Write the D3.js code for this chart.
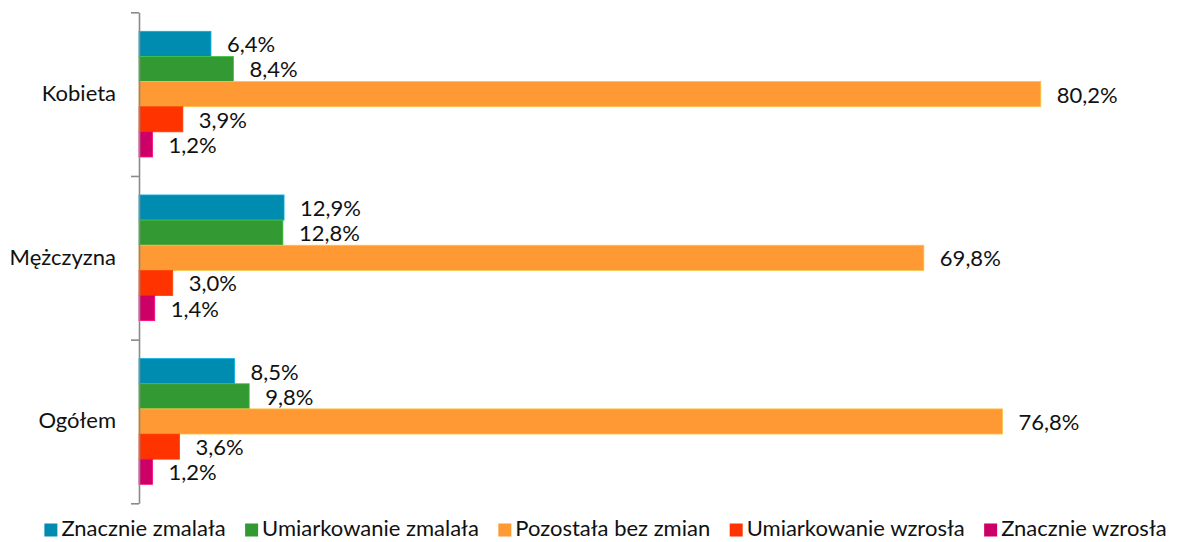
<!DOCTYPE html>
<html lang="pl">
<head>
<meta charset="utf-8">
<script src="https://cdn.jsdelivr.net/npm/d3@7"></script>
<style>
  html, body { margin: 0; padding: 0; background: #fff; }
  svg { display: block; }
  text { font-family: Lato, "Open Sans", sans-serif; fill: #111; }
</style>
</head>
<body>
<svg id="chart" width="1186" height="542"></svg>
<script>
// Grupy (oś pionowa) i serie odpowiedzi
const categories = ["Kobieta", "Mężczyzna", "Ogółem"];
const seriesNames = ["Znacznie zmalała", "Umiarkowanie zmalała", "Pozostała bez zmian", "Umiarkowanie wzrosła", "Znacznie wzrosła"];
const seriesColors = ["#008BB0", "#339933", "#FF9933", "#FF3300", "#CC0066"];

// Odsetki (%) dla kolejnych grup: Kobieta, Mężczyzna, Ogółem
const znacznieZmalala     = [6.4, 12.9, 8.5];
const umiarkowanieZmalala = [8.4, 12.8, 9.8];
const pozostalaBezZmian   = [80.2, 69.8, 76.8];
const umiarkowanieWzrosla = [3.9, 3.0, 3.6];
const znacznieWzrosla     = [1.2, 1.4, 1.2];

const seriesValues = [znacznieZmalala, umiarkowanieZmalala, pozostalaBezZmian, umiarkowanieWzrosla, znacznieWzrosla];

const rows = [];
categories.forEach((cat, ci) => {
  seriesNames.forEach((s, si) => {
    rows.push({ cat, series: s, si, value: seriesValues[si][ci] });
  });
});

const svg = d3.select("#chart");
const plot = { left: 139, top: 12.3, bottom: 503.3, right: 1151 };
const fontSize = "22px";

const x = d3.scaleLinear().domain([0, 90]).range([plot.left, plot.right]);
const y = d3.scaleBand().domain(categories).range([plot.top, plot.bottom]).paddingInner(0).paddingOuter(0);
const yInner = d3.scaleBand().domain(seriesNames).range([0, y.bandwidth()]).paddingInner(0).paddingOuter(0.756);
const color = d3.scaleOrdinal().domain(seriesNames).range(seriesColors);

const fmt = v => v.toFixed(1).replace(".", ",") + "%";

// Słupki
const groups = svg.append("g").selectAll("g")
  .data(categories)
  .join("g")
  .attr("transform", d => `translate(0,${y(d)})`);

groups.selectAll("rect")
  .data(c => rows.filter(r => r.cat === c))
  .join("rect")
  .attr("x", x(0))
  .attr("y", d => yInner(d.series))
  .attr("width", d => x(d.value) - x(0))
  .attr("height", yInner.bandwidth())
  .attr("fill", d => color(d.series))
  .attr("stroke", d => d3.color(color(d.series)).brighter(0.7))
  .attr("stroke-width", 0.8);

// Etykiety wartości
groups.selectAll("text.val")
  .data(c => rows.filter(r => r.cat === c))
  .join("text")
  .attr("class", "val")
  .attr("x", d => x(d.value) + 16)
  .attr("y", d => yInner(d.series) + yInner.bandwidth() / 2 + 8.5)
  .style("font-size", fontSize)
  .text(d => fmt(d.value));

// Oś kategorii: linia z kreskami na granicach grup
const yEdges = d3.scaleLinear().domain([0, categories.length]).range([plot.top, plot.bottom]);
const axis = svg.append("g")
  .attr("transform", `translate(${plot.left},0)`)
  .call(d3.axisLeft(yEdges).tickValues(d3.range(categories.length + 1)).tickFormat("").tickSize(8).tickSizeOuter(0));
axis.select(".domain").attr("stroke", "#8a8a8a").attr("stroke-width", 1.6);
axis.selectAll(".tick line").attr("stroke", "#8a8a8a").attr("stroke-width", 1.6);

svg.append("g").selectAll("text")
  .data(categories)
  .join("text")
  .attr("x", 116)
  .attr("y", d => y(d) + y.bandwidth() / 2 + 7)
  .attr("text-anchor", "end")
  .style("font-size", fontSize)
  .text(d => d);

// Legenda pod wykresem
const legend = svg.append("g");
const sw = 13, gapText = 4, gapItem = 19.5;
const items = legend.selectAll("g").data(seriesNames).join("g");
items.append("rect")
  .attr("width", sw).attr("height", sw)
  .attr("y", 523.5)
  .attr("fill", d => color(d));
items.append("text")
  .attr("x", sw + gapText)
  .attr("y", 536)
  .style("font-size", fontSize)
  .text(d => d);

const widths = [];
items.each(function () {
  const w = sw + gapText + d3.select(this).select("text").node().getComputedTextLength();
  widths.push(w);
});
const total = d3.sum(widths) + gapItem * (widths.length - 1);
let start = 605.5 - total / 2;
items.attr("transform", (d, i) => {
  const tx = start;
  start += widths[i] + gapItem;
  return `translate(${tx},0)`;
});
</script>
</body>
</html>
